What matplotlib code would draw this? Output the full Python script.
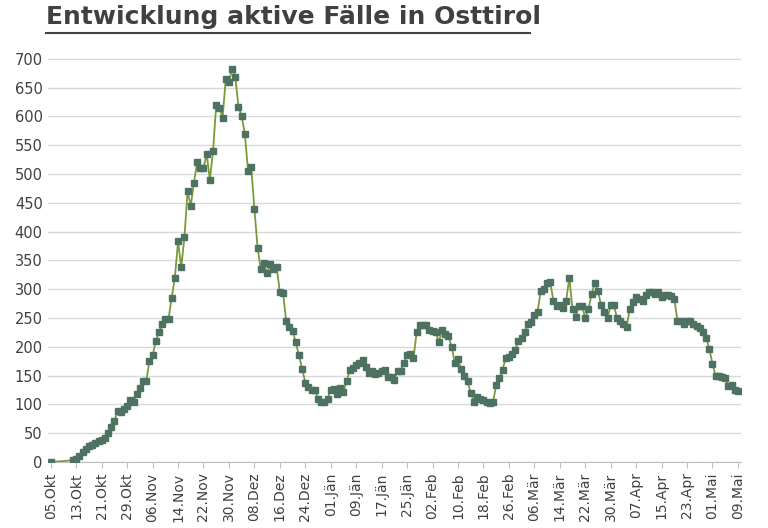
import matplotlib
matplotlib.use("Agg")
import matplotlib.pyplot as plt
import numpy as np

tick_labels = ["05.Okt","13.Okt","21.Okt","29.Okt","06.Nov","14.Nov","22.Nov","30.Nov","08.Dez","16.Dez","24.Dez","01.Jän","09.Jän","17.Jän","25.Jän","02.Feb","10.Feb","18.Feb","26.Feb","06.Mär","14.Mär","22.Mär","30.Mär","07.Apr","15.Apr","23.Apr","01.Mai","09.Mai"]

first_value = [0]  # 05.Okt
# daily from 12.Okt (day 7)
values_a = [3,5,10,18,22,27,30,33,36,38,42,50,60,72,88,87,92,98,108,105,118,128,140,140,175,185,210,225,240,248,248,285,320,383,338,390,470,445,485,520,510,510,535,490,540,620,615,598,665,660,683,668,617,600,570,505,512,440,372,335,345,328,343,335,338,295,293,245,235,228,208,185,162,138,130,125,125,110,105,105,110,125,127,118,128,122,140,160,163,168,172,177,165,155,158,152,155,158,160,148,148,142,158,158,172,185,188,180,225]
values_b = [237,237,238,230,228,225,208,230,222,218,200,172,178,162,150,140,120,105,113,110,107,105,102,104,133,145,160,180,182,188,195,210,215,225,240,243,255,260,297,300,310,312,280,270,272,268,280,320,265,252,270,270,250,265,292,310,297,272,260,250,272,272,250,245,240,235,265,278,287,283,280,290,295,295,292,295,287,290,290,288,283,245,245,240,245,245,240,236,232,225,215,197,170,150,150,148,145,132,133,125,123]

values = first_value + values_a + values_b
days = [0] + list(range(7, 7 + len(values_a) + len(values_b)))

fig, ax = plt.subplots(figsize=(7.68, 5.28), dpi=100)
fig.subplots_adjust(left=0.062, right=0.965, top=0.905, bottom=0.125)
ax.plot(days, values, color="#7a9a3a", lw=1.3, marker="s", ms=4.5,
        markerfacecolor="#4d7262", markeredgecolor="#4d7262", zorder=3)
ax.set_xlim(-1, 217)
ax.set_ylim(0, 715)
ax.set_yticks(range(0, 701, 50))
ax.set_xticks(range(0, 217, 8))
ax.set_xticklabels(tick_labels, rotation=90, fontsize=10, color="#404040")
ax.tick_params(axis="y", labelsize=10.5, colors="#404040", length=0)
ax.tick_params(axis="x", length=4, color="#bfbfbf")
ax.grid(axis="y", color="#d9d9d9", lw=1)
ax.set_axisbelow(True)
for s in ["top", "right", "left"]:
    ax.spines[s].set_visible(False)
ax.spines["bottom"].set_color("#bfbfbf")
fig.text(0.06, 0.968, "Entwicklung aktive Fälle in Osttirol", fontsize=18, fontweight="bold",
         color="#404040", ha="left", va="center")
fig.add_artist(matplotlib.lines.Line2D([0.06, 0.69], [0.938, 0.938], color="#404040", lw=1.5))
fig.savefig("out.png")
